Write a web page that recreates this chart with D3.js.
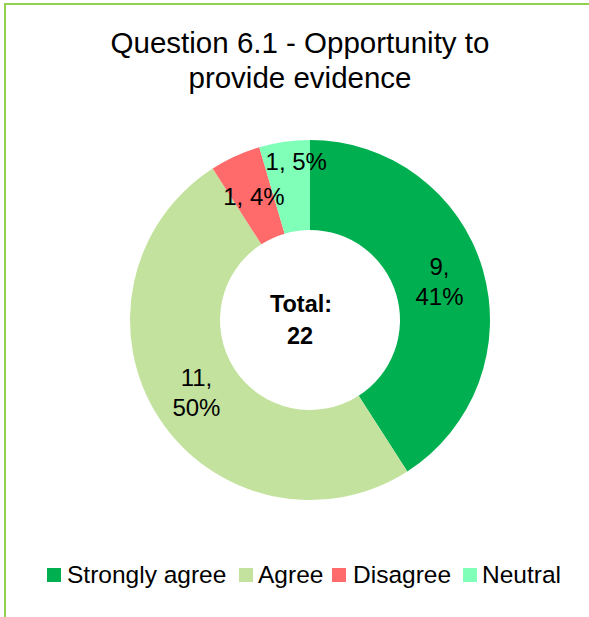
<!DOCTYPE html>
<html>
<head>
<meta charset="utf-8">
<script src="https://cdn.jsdelivr.net/npm/d3@7"></script>
<style>
  html, body { margin: 0; padding: 0; background: #fff; }
  svg { display: block; }
  text { font-family: "Liberation Sans", Arial, sans-serif; fill: #000; }
</style>
</head>
<body>
<svg id="chart" width="589" height="617"></svg>
<script>
// Survey responses for question 6.1
const categories = ["Strongly agree", "Agree", "Disagree", "Neutral"];
const counts = [9, 11, 1, 1];
const percentLabels = ["41%", "50%", "4%", "5%"];
const colors = ["#00B050", "#C3E29D", "#FF6B6B", "#7FFFB8"];
const titleLines = ["Question 6.1 - Opportunity to", "provide evidence"];
const total = d3.sum(counts);

const svg = d3.select("#chart");
const W = 589, H = 617;

// Text anchored at (x, y), optionally squeezed horizontally by sx
function scaledText(parent, x, y, str, size, sx, anchor, weight) {
  const gg = parent.append("g").attr("transform", `translate(${x},${y}) scale(${sx},1)`);
  return gg.append("text")
    .attr("text-anchor", anchor || "middle")
    .attr("font-size", size)
    .attr("font-weight", weight || "normal")
    .text(str);
}

// Chart frame (extends past the right and bottom edges)
svg.append("rect")
  .attr("x", 5).attr("y", 4)
  .attr("width", W + 20).attr("height", H + 20)
  .attr("fill", "#fff")
  .attr("stroke", "#92D050")
  .attr("stroke-width", 2);

// Title
titleLines.forEach((line, i) => {
  scaledText(svg, 300, 53 + i * 35, line, 29.5, 1.0);
});

// Donut
const cx = 310, cy = 320, outerR = 180, innerR = 90;
const pie = d3.pie().sort(null).value(d => d.value);
const arcs = pie(categories.map((c, i) => ({ name: c, value: counts[i], pct: percentLabels[i], color: colors[i] })));
const arc = d3.arc().innerRadius(innerR).outerRadius(outerR);

const g = svg.append("g").attr("transform", `translate(${cx},${cy})`);
g.selectAll("path.slice")
  .data(arcs)
  .join("path")
  .attr("class", "slice")
  .attr("d", arc)
  .attr("fill", d => d.data.color);

// Data labels: large slices wrap onto two lines, small ones stay on one
const labelRadius = [135, 135, 135, 160];
const labelShiftX = [0, 0, 0, 9];
arcs.forEach((d, i) => {
  const a = (d.startAngle + d.endAngle) / 2;
  const r = labelRadius[i];
  const x = Math.sin(a) * r + labelShiftX[i];
  const y = -Math.cos(a) * r;
  const t = g.append("text")
    .attr("text-anchor", "middle")
    .attr("font-size", 24);
  if (d.data.value > 1) {
    t.append("tspan").attr("x", x).attr("y", y - 7).text(d.data.value + ",");
    t.append("tspan").attr("x", x).attr("y", y + 23).text(d.data.pct);
  } else {
    t.append("tspan").attr("x", x).attr("y", y + 8).text(d.data.value + ", " + d.data.pct);
  }
});

// Centre total
scaledText(g, -9, -8, "Total:", 24.5, 0.96, "middle", "bold");
scaledText(g, -10, 24, String(total), 24.5, 0.96, "middle", "bold");

// Legend
const legendSwatchX = [47, 239, 332, 463];
const legendTextX = [67, 258, 353, 482];
categories.forEach((c, i) => {
  svg.append("rect")
    .attr("x", legendSwatchX[i]).attr("y", 568)
    .attr("width", 14).attr("height", 14)
    .attr("fill", colors[i]);
  scaledText(svg, legendTextX[i], 583, c, 24.5, 1.0, "start");
});
</script>
</body>
</html>
